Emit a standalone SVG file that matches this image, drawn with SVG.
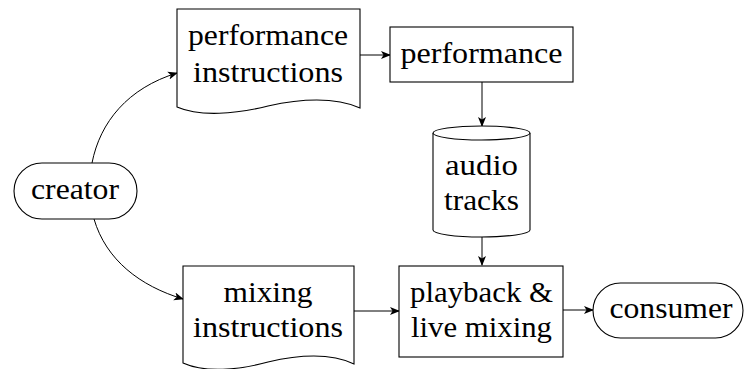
<svg xmlns="http://www.w3.org/2000/svg" width="744" height="369" viewBox="0 0 744 369">
  <style>
    .shape { fill: #fff; stroke: #000; stroke-width: 1.1; }
    .edge { fill: none; stroke: #000; stroke-width: 1; marker-end: url(#arrow); }
    .lbl { font-family: 'Liberation Serif', 'DejaVu Serif', serif; font-size: 30px; fill: #000; text-anchor: middle; }
  </style>
  <defs>
    <marker id="arrow" viewBox="0 0 10 10" refX="9" refY="5" markerWidth="10" markerHeight="10" markerUnits="userSpaceOnUse" orient="auto">
      <path d="M0,1 L10,5 L0,9 L2.5,5 Z" fill="#000"/>
    </marker>
  </defs>

  <!-- connectors -->
  <g id="connectors">
    <path class="edge" d="M92,163 C100,122 128,88 177,73"/>
    <path class="edge" d="M94,219 C106,260 140,286 183,299"/>
    <path class="edge" d="M360,55 H390"/>
    <path class="edge" d="M482,82 V126"/>
    <path class="edge" d="M482,236 V265"/>
    <path class="edge" d="M354,311 H399"/>
    <path class="edge" d="M563,310 H593"/>
  </g>

  <!-- creator (terminal) -->
  <g id="creator">
    <rect class="shape" x="14" y="163" width="123" height="56" rx="28" ry="28"/>
    <text class="lbl" x="75" y="199" textLength="88" lengthAdjust="spacingAndGlyphs">creator</text>
  </g>

  <!-- performance instructions (document) -->
  <g id="performance-instructions">
    <path class="shape" d="M177,9 H360 V108 C335,97 300,99 268,106 C236,114 200,117 177,107 Z"/>
    <text class="lbl" x="268" y="45" textLength="160" lengthAdjust="spacingAndGlyphs">performance</text>
    <text class="lbl" x="268" y="82" textLength="150" lengthAdjust="spacingAndGlyphs">instructions</text>
  </g>

  <!-- performance (process) -->
  <g id="performance">
    <rect class="shape" x="390" y="27" width="183" height="55"/>
    <text class="lbl" x="481.5" y="63" textLength="162" lengthAdjust="spacingAndGlyphs">performance</text>
  </g>

  <!-- audio tracks (storage) -->
  <g id="audio-tracks">
    <path class="shape" d="M433,133 A48.5,7 0 0 1 530,133 V230 A48.5,7 0 0 1 433,230 Z"/>
    <path class="shape" d="M433,133 A48.5,7 0 0 0 530,133" fill="none"/>
    <text class="lbl" x="481.5" y="175" textLength="73" lengthAdjust="spacingAndGlyphs">audio</text>
    <text class="lbl" x="481.5" y="210" textLength="75" lengthAdjust="spacingAndGlyphs">tracks</text>
  </g>

  <!-- mixing instructions (document) -->
  <g id="mixing-instructions">
    <path class="shape" d="M183,266 H354 V364 C331,353 298,355 268,362 C239,370 205,373 183,363 Z"/>
    <text class="lbl" x="268" y="302" textLength="89" lengthAdjust="spacingAndGlyphs">mixing</text>
    <text class="lbl" x="268" y="337" textLength="150" lengthAdjust="spacingAndGlyphs">instructions</text>
  </g>

  <!-- playback & live mixing (process) -->
  <g id="playback">
    <rect class="shape" x="399" y="266" width="164" height="91"/>
    <text class="lbl" x="481.5" y="302" textLength="143" lengthAdjust="spacingAndGlyphs">playback &amp;</text>
    <text class="lbl" x="481.5" y="337" textLength="141" lengthAdjust="spacingAndGlyphs">live mixing</text>
  </g>

  <!-- consumer (terminal) -->
  <g id="consumer">
    <rect class="shape" x="593" y="283" width="150" height="55" rx="27.5" ry="27.5"/>
    <text class="lbl" x="671" y="318" textLength="123" lengthAdjust="spacingAndGlyphs">consumer</text>
  </g>
</svg>
